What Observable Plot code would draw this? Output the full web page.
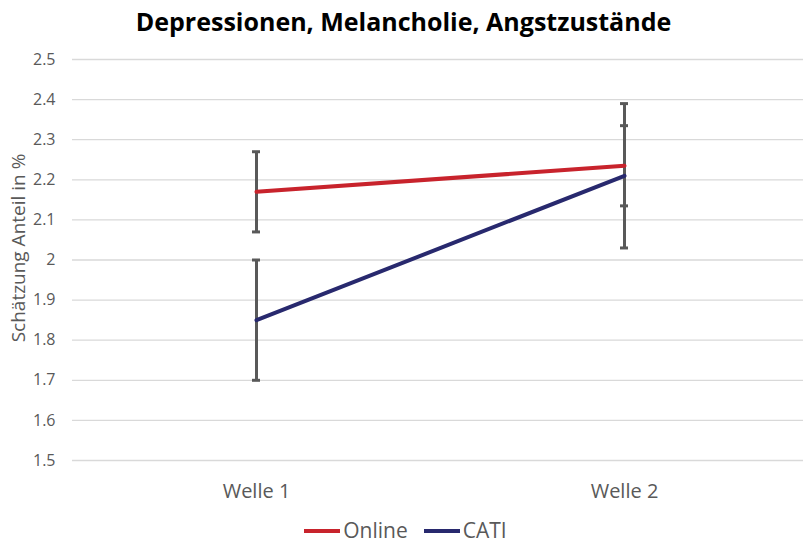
<!DOCTYPE html>
<html>
<head>
<meta charset="utf-8">
<script src="https://cdn.jsdelivr.net/npm/d3@7"></script>
<script src="https://cdn.jsdelivr.net/npm/@observablehq/plot@0.6"></script>
<style>
  html, body { margin: 0; padding: 0; background: #fff; }
  body { width: 803px; height: 543px; position: relative; overflow: hidden; font-family: "Open Sans", sans-serif; }
  #title { position: absolute; top: 4px; left: 2px; width: 803px; text-align: center; font-weight: 700; font-size: 25px; color: #000; line-height: normal; }
  #chart { position: absolute; top: 45px; left: 0; }
  #legend { position: absolute; top: 520px; left: 4px; width: 803px; text-align: center; font-size: 21px; line-height: 21px; color: #595959; }
  .item { display: inline-block; margin: 0 8px; }
  .sw { display: inline-block; width: 36px; height: 4px; vertical-align: middle; margin-right: 3px; position: relative; top: -1px; }
</style>
</head>
<body>
<div id="title">Depressionen, Melancholie, Angstzustände</div>
<div id="chart"></div>
<div id="legend"></div>
<script>
const categories = ["Welle 1", "Welle 2"];
const seriesNames = ["Online", "CATI"];
const onlineValues = [2.17, 2.235];
const onlineLow = [2.07, 2.135];
const onlineHigh = [2.27, 2.335];
const catiValues = [1.85, 2.21];
const catiLow = [1.70, 2.03];
const catiHigh = [2.00, 2.39];
const yTicks = [1.5, 1.6, 1.7, 1.8, 1.9, 2.0, 2.1, 2.2, 2.3, 2.4, 2.5];
const yLabel = "Schätzung Anteil in %";
const colors = {Online: "#C8232C", CATI: "#28296E"};

const rows = [];
categories.forEach((c, i) => {
  rows.push({cat: c, series: "Online", value: onlineValues[i], low: onlineLow[i], high: onlineHigh[i]});
  rows.push({cat: c, series: "CATI", value: catiValues[i], low: catiLow[i], high: catiHigh[i]});
});

const plot = Plot.plot({
  width: 803,
  height: 465,
  marginLeft: 72,
  marginRight: 0,
  marginTop: 14,
  marginBottom: 50,
  style: {fontFamily: "Open Sans, sans-serif", background: "transparent"},
  x: {type: "point", domain: categories, padding: 0.5, range: [72, 808]},
  y: {domain: [1.5, 2.5]},
  marks: [
    Plot.ruleY(yTicks, {stroke: "#D9D9D9", strokeWidth: 1.3}),
    Plot.axisY({ticks: yTicks, tickSize: 0, tickPadding: 17, tickFormat: d => String(+d.toFixed(1)), fontSize: 16, fill: "#595959", label: null}),
    Plot.axisX({tickSize: 0, tickPadding: 23, fontSize: 20, fill: "#595959", label: null}),
    Plot.text([yLabel], {frameAnchor: "left", dx: -54, dy: -12, rotate: -90, fontSize: 19, fill: "#595959", textAnchor: "middle"}),
    Plot.ruleX(rows, {x: "cat", y1: "low", y2: "high", stroke: "#595959", strokeWidth: 3}),
    Plot.ruleY(rows, {x1: "cat", x2: "cat", y: "low", stroke: "#595959", strokeWidth: 3, insetLeft: -4, insetRight: -4}),
    Plot.ruleY(rows, {x1: "cat", x2: "cat", y: "high", stroke: "#595959", strokeWidth: 3, insetLeft: -4, insetRight: -4}),
    Plot.line(rows, {x: "cat", y: "value", z: "series", stroke: d => colors[d.series], strokeWidth: 4, strokeLinecap: "round"})
  ]
});
document.getElementById("chart").appendChild(plot);

const legend = document.getElementById("legend");
seriesNames.forEach(s => {
  const item = document.createElement("span");
  item.className = "item";
  const sw = document.createElement("span");
  sw.className = "sw";
  sw.style.background = colors[s];
  item.appendChild(sw);
  item.appendChild(document.createTextNode(s));
  legend.appendChild(item);
});
</script>
</body>
</html>
